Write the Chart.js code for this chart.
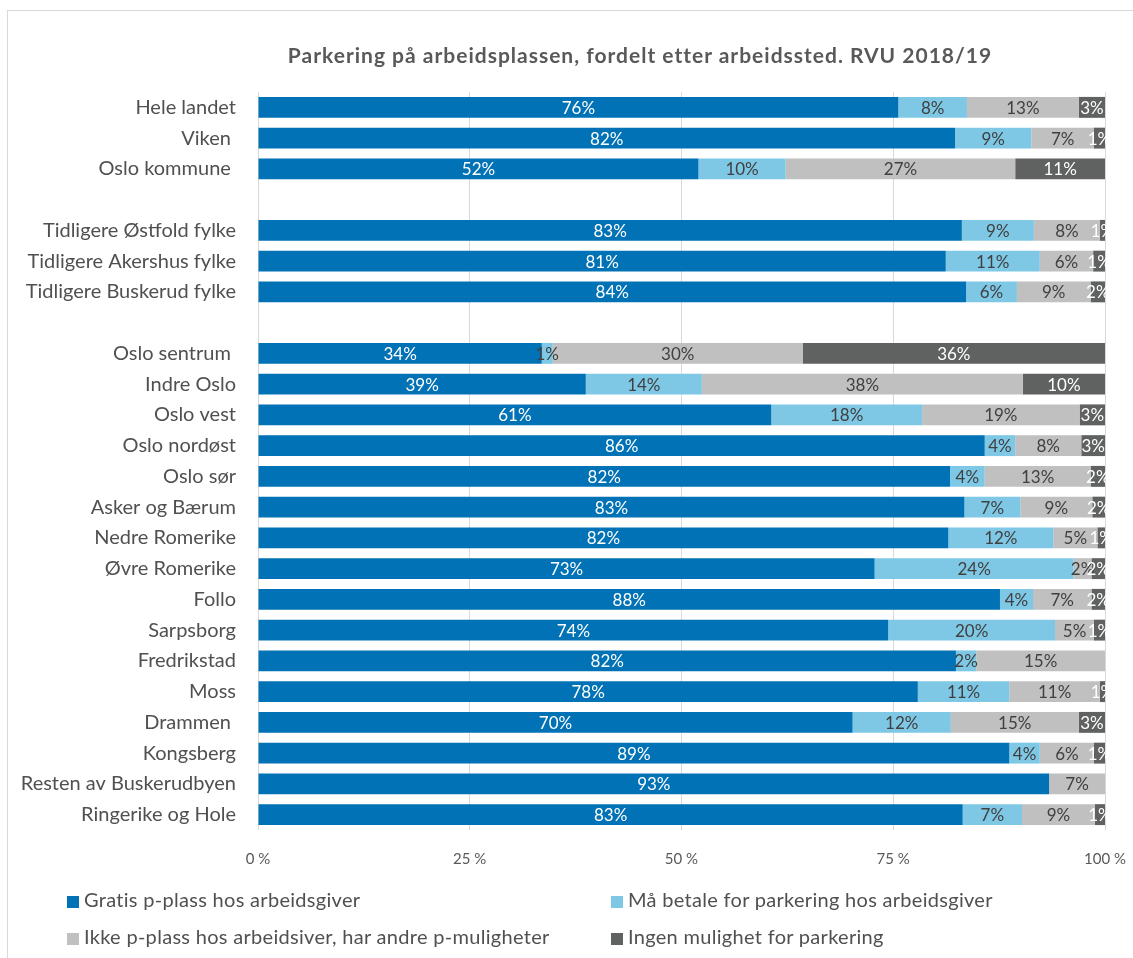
<!DOCTYPE html>
<html>
<head>
<meta charset="utf-8">
<script src="https://cdn.jsdelivr.net/npm/chart.js@4.4.1/dist/chart.umd.min.js"></script>
<style>
  body { margin: 0; background: #fff; }
  .wrap { position: relative; width: 1133px; height: 958px; overflow: hidden; }
  .frame { position: absolute; left: 7px; top: 10px; width: 1200px; height: 1000px; border: 1px solid #d9d9d9; box-sizing: border-box; }
  canvas { position: absolute; left: 0; top: 0; }
  .title { position: absolute; left: 0; top: 42px; width: 1280px; text-align: center; font-family: Lato, sans-serif; font-weight: bold; font-size: 21px; letter-spacing: 1px; color: #595959; }
  .legend { position: absolute; font-family: Lato, sans-serif; font-size: 20px; letter-spacing: 0.3px; color: #505050; }
  .legend span { display: inline-block; width: 12px; height: 12px; margin-right: 5px; vertical-align: -1px; }
</style>
</head>
<body>
<div class="wrap">
  <div class="frame"></div>
  <canvas id="myChart" width="1133" height="958"></canvas>
  <div class="title">Parkering på arbeidsplassen, fordelt etter arbeidssted. RVU 2018/19</div>
  <div class="legend" style="left:67px; top:887px"><span style="background:#0072b5"></span>Gratis p-plass hos arbeidsgiver</div>
  <div class="legend" style="left:611px; top:887px"><span style="background:#7ec7e5"></span>Må betale for parkering hos arbeidsgiver</div>
  <div class="legend" style="left:67px; top:924px"><span style="background:#bfc0bf"></span>Ikke p-plass hos arbeidsiver, har andre p-muligheter</div>
  <div class="legend" style="left:611px; top:924px"><span style="background:#5f6261"></span>Ingen mulighet for parkering</div>
</div>
<script>
const places = ['Hele landet', 'Viken ', 'Oslo kommune ', '',
  'Tidligere Østfold fylke', 'Tidligere Akershus fylke', 'Tidligere Buskerud fylke', '',
  'Oslo sentrum ', 'Indre Oslo', 'Oslo vest', 'Oslo nordøst', 'Oslo sør', 'Asker og Bærum',
  'Nedre Romerike', 'Øvre Romerike', 'Follo', 'Sarpsborg', 'Fredrikstad', 'Moss', 'Drammen ',
  'Kongsberg', 'Resten av Buskerudbyen', 'Ringerike og Hole']

// andel i prosent, lest av figuren
const gratis = [75.6, 82.3, 52.0, null, 83.1, 81.2, 83.6, null, 33.5, 38.7, 60.6, 85.8, 81.7, 83.4, 81.5, 72.8, 87.6, 74.4, 82.4, 77.9, 70.2, 88.7, 93.4, 83.2]
const betale = [8.1, 9.0, 10.3, null, 8.5, 11.1, 6.0, null, 1.3, 13.7, 17.8, 3.6, 4.1, 6.6, 12.4, 23.5, 3.9, 19.7, 2.4, 10.8, 11.6, 3.6, null, 7.0]
const andre = [13.2, 7.4, 27.1, null, 7.8, 6.3, 8.7, null, 29.5, 37.9, 18.6, 7.8, 12.5, 8.5, 5.2, 2.1, 6.9, 4.6, 15.2, 10.7, 15.1, 6.4, 6.6, 8.6]
const ingen = [3.1, 1.3, 10.6, null, 0.6, 1.4, 1.7, null, 35.7, 9.7, 3.0, 2.8, 1.7, 1.5, 0.9, 1.6, 1.6, 1.3, null, 0.6, 3.1, 1.3, null, 1.2]

const seriesNames = ['Gratis p-plass hos arbeidsgiver', 'Må betale for parkering hos arbeidsgiver',
  'Ikke p-plass hos arbeidsiver, har andre p-muligheter', 'Ingen mulighet for parkering']
const colors = ['#0072b5', '#7ec7e5', '#bfc0bf', '#5f6261']
const labelColors = ['#ffffff', '#404040', '#404040', '#ffffff']
const xTicks = [0, 25, 50, 75, 100]

const font = 'Lato, sans-serif'

// tekst midt i hvert segment
const barLabels = {
  id: 'barLabels',
  afterDatasetsDraw(chart) {
    const c = chart.ctx
    c.save()
    c.font = '17px ' + font
    c.textAlign = 'center'
    c.textBaseline = 'middle'
    chart.data.datasets.forEach((ds, i) => {
      const meta = chart.getDatasetMeta(i)
      meta.data.forEach((bar, j) => {
        const v = ds.data[j]
        if (v == null) return
        c.fillStyle = labelColors[i]
        c.fillText(Math.round(v) + '%', (bar.x + bar.base) / 2, bar.y + 1)
      })
    })
    c.restore()
  }
}

var ctx = document.getElementById('myChart').getContext('2d')
var myChart = new Chart(ctx, {
  type: 'bar',
  data: {
    labels: places,
    datasets: [gratis, betale, andre, ingen].map((d, i) => ({
      label: seriesNames[i],
      data: d,
      backgroundColor: colors[i],
      borderWidth: 0,
      barPercentage: 0.68,
      categoryPercentage: 1
    }))
  },
  options: {
    indexAxis: 'y',
    responsive: false,
    animation: false,
    layout: { padding: { top: 92, right: 28, bottom: 88, left: 0 } },
    plugins: {
      legend: { display: false },
      tooltip: { enabled: false },
      title: { display: false }
    },
    scales: {
      x: {
        stacked: true,
        min: 0,
        max: 100,
        afterBuildTicks: (axis) => { axis.ticks = xTicks.map(v => ({ value: v })) },
        afterFit: (axis) => {
          axis.height = 40
          axis.paddingLeft = 0
          axis.paddingRight = 0
        },
        border: { display: false },
        grid: { color: '#d9d9d9', drawTicks: false },
        ticks: {
          padding: 20,
          color: '#595959',
          font: { family: font, size: 15 },
          callback: (v) => v + ' %'
        }
      },
      y: {
        stacked: true,
        afterFit: (axis) => { axis.width = 258 },
        border: { display: false },
        grid: { display: false, drawTicks: false },
        ticks: {
          padding: 22,
          autoSkip: false,
          color: '#505050',
          font: { family: font, size: 20 }
        }
      }
    }
  },
  plugins: [barLabels]
})
</script>
</body>
</html>
